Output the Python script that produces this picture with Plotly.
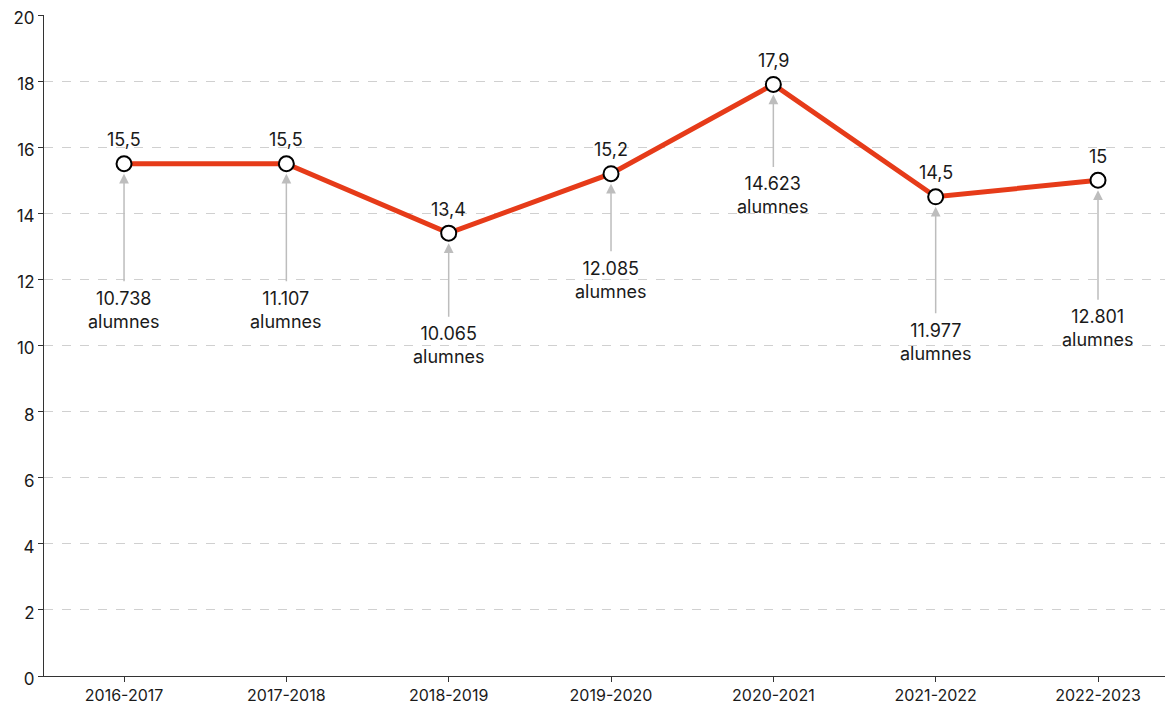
import plotly.graph_objects as go

categories = ["2016-2017", "2017-2018", "2018-2019", "2019-2020", "2020-2021", "2021-2022", "2022-2023"]
values = [15.5, 15.5, 13.4, 15.2, 17.9, 14.5, 15.0]
value_labels = ["15,5", "15,5", "13,4", "15,2", "17,9", "14,5", "15"]
students = ["10.738", "11.107", "10.065", "12.085", "14.623", "11.977", "12.801"]

# pixel offsets of the student labels below each point (layout only)
label_offsets = [146, 146, 112, 106, 111, 145, 148]

FONT = "Inter, Noto Sans, sans-serif"

fig = go.Figure()
fig.add_trace(go.Scatter(
    x=categories, y=values, mode="lines+markers",
    line=dict(color="#e63b19", width=5),
    marker=dict(size=15, color="white", line=dict(color="black", width=2)),
    hoverinfo="skip", showlegend=False,
))

annotations = []
for c, v, lab, st, off in zip(categories, values, value_labels, students, label_offsets):
    annotations.append(dict(
        x=c, y=v, xref="x", yref="y", text=lab, showarrow=False,
        yshift=24, font=dict(family=FONT, size=18, color="#1a1a1a"),
    ))
    annotations.append(dict(
        x=c, y=v, xref="x", yref="y", text=f"{st}<br>alumnes",
        showarrow=True, ax=0, ay=off, axref="pixel", ayref="pixel",
        arrowhead=2, arrowsize=1.3, arrowwidth=1.5, arrowcolor="#bdbdbd",
        standoff=10, borderpad=6,
        font=dict(family=FONT, size=18, color="#1a1a1a"),
    ))

# the page body adds an 8px margin, so the figure is 8px smaller and shifted
fig.update_layout(
    width=1165, height=698,
    margin=dict(l=36, r=0, t=7, b=30, autoexpand=False),
    paper_bgcolor="white", plot_bgcolor="white",
    font=dict(family=FONT, size=16, color="#1a1a1a"),
    annotations=annotations,
    xaxis=dict(
        type="category", range=[-0.493, 6.462],
        showline=True, linecolor="#333", linewidth=1,
        ticks="outside", ticklen=5, tickcolor="#333",
        showgrid=False, tickfont=dict(size=16), automargin=False,
        ticklabeloverflow="allow",
    ),
    yaxis=dict(
        range=[0, 20], dtick=2, tick0=0,
        showline=True, linecolor="#333", linewidth=1,
        ticks="outside", ticklen=5, tickcolor="#333",
        showgrid=True, gridcolor="#d0d0d0", griddash="dash", gridwidth=1,
        zeroline=False, tickfont=dict(size=17), automargin=False,
        ticklabeloverflow="allow", ticklabelshift=3,
    ),
)

fig.write_html("out.html")
